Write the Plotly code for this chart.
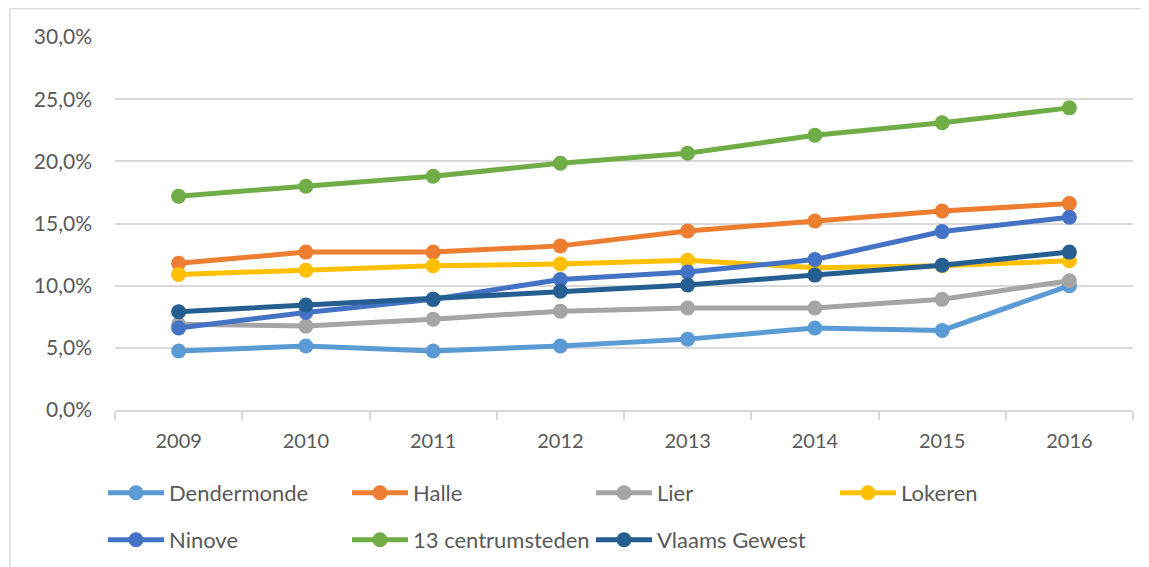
import plotly.graph_objects as go

years = ["2009", "2010", "2011", "2012", "2013", "2014", "2015", "2016"]

dendermonde = [4.75, 5.15, 4.75, 5.15, 5.7, 6.6, 6.4, 10.0]
halle = [11.8, 12.7, 12.7, 13.2, 14.4, 15.2, 16.0, 16.6]
lier = [6.9, 6.75, 7.3, 7.95, 8.2, 8.2, 8.9, 10.4]
lokeren = [10.9, 11.25, 11.6, 11.75, 12.05, 11.45, 11.6, 12.0]
ninove = [6.6, 7.85, 8.9, 10.5, 11.1, 12.1, 14.35, 15.5]
centrumsteden = [17.2, 18.0, 18.8, 19.85, 20.65, 22.1, 23.1, 24.3]
vlaams = [7.9, 8.45, 8.9, 9.55, 10.05, 10.85, 11.65, 12.7]

series_names = ["Dendermonde", "Halle", "Lier", "Lokeren", "Ninove",
                "13 centrumsteden", "Vlaams Gewest"]
series_values = [dendermonde, halle, lier, lokeren, ninove, centrumsteden, vlaams]
colors = ["#5B9BD5", "#ED7D31", "#A5A5A5", "#FFC000", "#4472C4", "#70AD47", "#255E91"]
legend_ids = ["legend", "legend", "legend", "legend", "legend2", "legend2", "legend2"]

y_tickvals = [0, 5, 10, 15, 20, 25, 30]
y_ticktext = ["0,0%", "5,0%", "10,0%", "15,0%", "20,0%", "25,0%", "30,0%"]

FONT = "Lato"
TXT = "#595959"
GRID = "#D9D9D9"

fig = go.Figure()
for name, vals, col, lg in zip(series_names, series_values, colors, legend_ids):
    fig.add_trace(go.Scatter(
        x=years, y=vals, name=name, mode="lines+markers",
        line=dict(color=col, width=5),
        marker=dict(color=col, size=15),
        legend=lg,
    ))

# page is rendered with an 8px body margin; work in screen coordinates
OFF = 8
W, H = 1149, 567
L, T = 115 - OFF, 37 - OFF
R = W - (1133 - OFF)
B = H - (410 - OFF)
pw, ph = W - L - R, H - T - B


def px_x(x):
    return (x - OFF - L) / pw


def px_y(y):
    return 1 - (y - OFF - T) / ph


leg_common = dict(orientation="h", x=px_x(103), xanchor="left",
                  yanchor="middle", entrywidth=173, entrywidthmode="pixels",
                  itemwidth=56, font=dict(family=FONT, size=22, color=TXT),
                  bgcolor="rgba(0,0,0,0)")

fig.update_layout(
    width=W, height=H,
    margin=dict(l=L, r=R, t=T, b=B, pad=0, autoexpand=False),
    paper_bgcolor="white", plot_bgcolor="white",
    font=dict(family=FONT, size=20, color=TXT),
    showlegend=True,
    legend=dict(y=px_y(493), **leg_common),
    legend2=dict(y=px_y(540), **leg_common),
    xaxis=dict(type="category", range=[-0.5, 7.5], showgrid=False,
               showline=True, linecolor=GRID, linewidth=1.5,
               ticks="outside", tickson="boundaries", ticklen=8,
               tickcolor=GRID, tickwidth=1.5,
               tickfont=dict(family=FONT, size=20, color=TXT),
               ticklabelstandoff=12, zeroline=False),
    yaxis=dict(range=[0, 30], tickvals=y_tickvals, ticktext=y_ticktext,
               showgrid=True, gridcolor=GRID, gridwidth=1.5,
               showline=False, zeroline=False, ticks="",
               tickfont=dict(family=FONT, size=21, color=TXT),
               ticklabelstandoff=22),
    shapes=[
        dict(type="line", xref="paper", yref="paper",
             x0=px_x(10), x1=px_x(1170), y0=px_y(8.6), y1=px_y(8.6),
             line=dict(color=GRID, width=1.5)),
        dict(type="line", xref="paper", yref="paper",
             x0=px_x(10), x1=px_x(10), y0=px_y(8.6), y1=px_y(600),
             line=dict(color=GRID, width=1.5)),
    ],
)

fig.write_html("out.html")
